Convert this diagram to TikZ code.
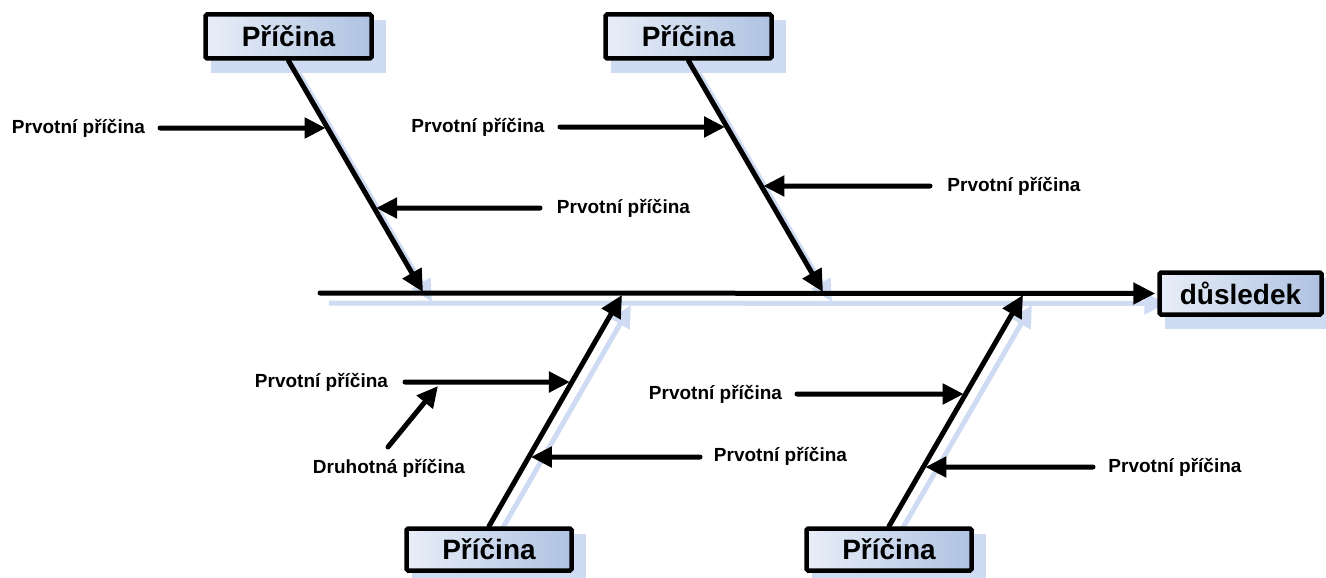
\documentclass[tikz,border=0pt]{standalone}
\usepackage{fontspec}
\setmainfont{Liberation Sans}
\usetikzlibrary{arrows.meta,calc,backgrounds}
\definecolor{boxL}{RGB}{232,238,248}
\definecolor{boxR}{RGB}{174,194,225}
\definecolor{shadowc}{RGB}{206,219,243}
\begin{document}
\begin{tikzpicture}[x=1pt,y=-1pt,
 cause/.style={draw=black, line width=4.5pt, rounded corners=1.5pt, left color=boxL, right color=boxR,
   minimum width=166pt, minimum height=43pt, inner sep=0pt,
   font=\fontsize{28}{30}\selectfont\bfseries},
 lbl/.style={font=\fontsize{19}{21}\selectfont\bfseries, inner sep=0pt},
 bone/.style={line width=5pt, line cap=round, -{Triangle[length=22pt,width=21pt]}},
 sub/.style={line width=5pt, line cap=round, shorten >=2pt, -{Triangle[length=21pt,width=20pt]}},
 shadowline/.style={line width=5pt, draw=shadowc, -{Triangle[length=22pt,width=21pt]}},
 boxshadow/.style={fill=shadowc},
]
\useasboundingbox (0,0) rectangle (1326,578);

% boxes
\node[cause, minimum width=166pt, minimum height=44pt] (c1) at (288.5,36.5) {Příčina};
\node[cause, minimum width=166pt, minimum height=44pt] (c2) at (688.5,36.5) {Příčina};
\node[cause, minimum width=165pt, minimum height=42pt] (c3) at (489,549.5) {Příčina};
\node[cause, minimum width=165pt, minimum height=42pt] (c4) at (889,549.5) {Příčina};
\node[cause, minimum width=162pt, minimum height=42pt] (eff) at (1240.5,293.5) {důsledek};

% key points
\coordinate (s0) at (320,293);
\coordinate (b1) at (423,292);
\coordinate (b2) at (823,292);
\coordinate (b3) at (622,295);
\coordinate (b4) at (1023,295);

% shadows
\begin{scope}[on background layer]
  \foreach \n in {c1,c2,c3,c4,eff}{
    \fill[boxshadow] ($(\n.south west)+(8,12)$) rectangle ($(\n.north east)+(12,8)$);
  }
  \draw[shadowline] ([shift={(9,10)}]s0) -- ([shift={(9,10)}]eff.west);
  \draw[shadowline] ([shift={(9,10)}]c1.south) -- ([shift={(9,10)}]b1);
  \draw[shadowline] ([shift={(9,10)}]c2.south) -- ([shift={(9,10)}]b2);
  \draw[shadowline] ([shift={(9,10)}]c3.north) -- ([shift={(9,10)}]b3);
  \draw[shadowline] ([shift={(9,10)}]c4.north) -- ([shift={(9,10)}]b4);
\end{scope}

% spine and bones
\draw[bone, shorten >=2pt] (s0) -- (eff.west);
\draw[bone] (c1.south) -- (b1);
\draw[bone] (c2.south) -- (b2);
\draw[bone] (c3.north) -- (b3);
\draw[bone] (c4.north) -- (b4);

% labels
\node[lbl] (l1) at (78.5,128) {Prvotní příčina};
\node[lbl] (l2) at (623.5,208) {Prvotní příčina};
\node[lbl] (l3) at (478,127) {Prvotní příčina};
\node[lbl] (l4) at (1014,186) {Prvotní příčina};
\node[lbl] (l5) at (321.5,382) {Prvotní příčina};
\node[lbl] (l6) at (389,468) {Druhotná příčina};
\node[lbl] (l7) at (780.5,456) {Prvotní příčina};
\node[lbl] (l8) at (715.5,394) {Prvotní příčina};
\node[lbl] (l9) at (1175,467) {Prvotní příčina};

% arrow start points
\coordinate (a1) at (160,128);
\coordinate (a2) at (540,208);
\coordinate (a3) at (560,127);
\coordinate (a4) at (930,186);
\coordinate (a5) at (405,382);
\coordinate (a7) at (700,457);
\coordinate (a8) at (797,394);
\coordinate (a9) at (1093,467);
\coordinate (d0) at (388,447);
\coordinate (d1) at (438,386);

% arrow targets on bones
\coordinate (t1) at (intersection of 0,128--10,128 and c1.south--b1);
\coordinate (t2) at (intersection of 0,208--10,208 and c1.south--b1);
\coordinate (t3) at (intersection of 0,127--10,127 and c2.south--b2);
\coordinate (t4) at (intersection of 0,186--10,186 and c2.south--b2);
\coordinate (t5) at (intersection of 0,382--10,382 and c3.north--b3);
\coordinate (t7) at (intersection of 0,457--10,457 and c3.north--b3);
\coordinate (t8) at (intersection of 0,394--10,394 and c4.north--b4);
\coordinate (t9) at (intersection of 0,467--10,467 and c4.north--b4);

\draw[sub] (a1) -- (t1);
\draw[sub] (a2) -- (t2);
\draw[sub] (a3) -- (t3);
\draw[sub] (a4) -- (t4);
\draw[sub] (a5) -- (t5);
\draw[sub] (a7) -- (t7);
\draw[sub] (a8) -- (t8);
\draw[sub] (a9) -- (t9);
\draw[sub, shorten >=0pt] (d0) -- (d1);
\end{tikzpicture}
\end{document}
